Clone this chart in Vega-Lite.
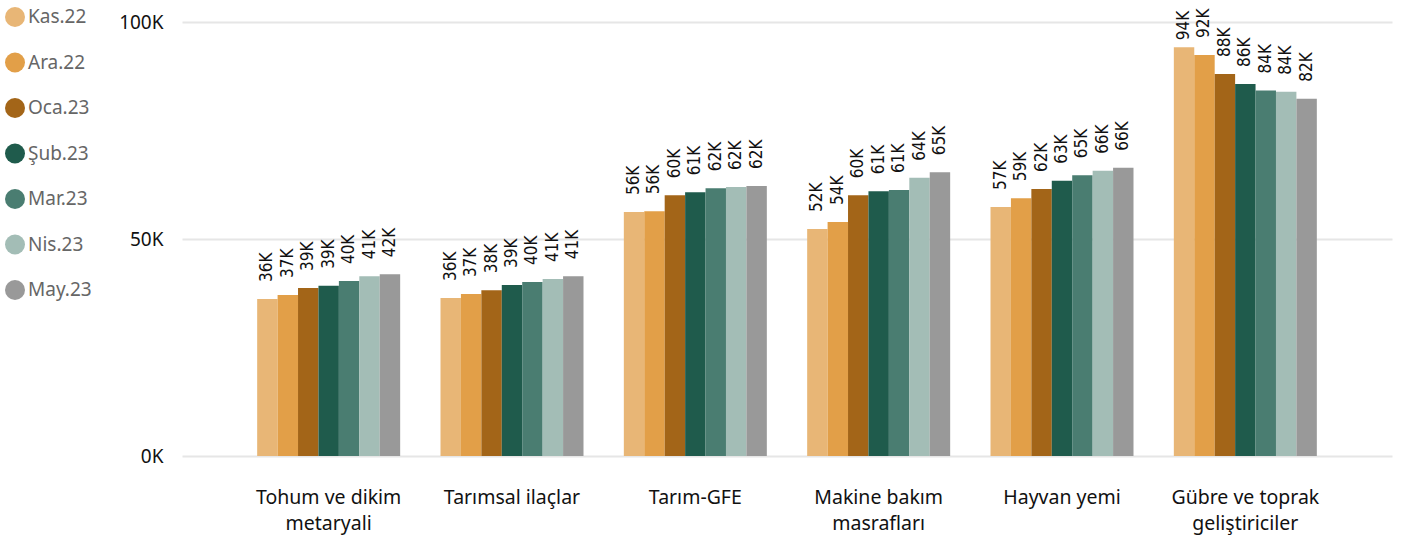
{
  "$schema": "https://vega.github.io/schema/vega-lite/v6.json",
  "width": 1210,
  "height": 434,
  "autosize": {"type": "none"},
  "padding": {"left": 182, "top": 22, "right": 14, "bottom": 81},
  "background": "white",
  "config": {
    "font": "Noto Sans",
    "view": {"stroke": null}
  },
  "data": {
    "values": [
      {"cat": "Tohum ve dikim metaryali", "month": "Kas.22", "value": 36200},
      {"cat": "Tohum ve dikim metaryali", "month": "Ara.22", "value": 37100},
      {"cat": "Tohum ve dikim metaryali", "month": "Oca.23", "value": 38700},
      {"cat": "Tohum ve dikim metaryali", "month": "Şub.23", "value": 39200},
      {"cat": "Tohum ve dikim metaryali", "month": "Mar.23", "value": 40300},
      {"cat": "Tohum ve dikim metaryali", "month": "Nis.23", "value": 41400},
      {"cat": "Tohum ve dikim metaryali", "month": "May.23", "value": 41900},
      {"cat": "Tarımsal ilaçlar", "month": "Kas.22", "value": 36400},
      {"cat": "Tarımsal ilaçlar", "month": "Ara.22", "value": 37300},
      {"cat": "Tarımsal ilaçlar", "month": "Oca.23", "value": 38200},
      {"cat": "Tarımsal ilaçlar", "month": "Şub.23", "value": 39400},
      {"cat": "Tarımsal ilaçlar", "month": "Mar.23", "value": 40100},
      {"cat": "Tarımsal ilaçlar", "month": "Nis.23", "value": 40800},
      {"cat": "Tarımsal ilaçlar", "month": "May.23", "value": 41400},
      {"cat": "Tarım-GFE", "month": "Kas.22", "value": 56200},
      {"cat": "Tarım-GFE", "month": "Ara.22", "value": 56400},
      {"cat": "Tarım-GFE", "month": "Oca.23", "value": 60100},
      {"cat": "Tarım-GFE", "month": "Şub.23", "value": 60800},
      {"cat": "Tarım-GFE", "month": "Mar.23", "value": 61700},
      {"cat": "Tarım-GFE", "month": "Nis.23", "value": 62000},
      {"cat": "Tarım-GFE", "month": "May.23", "value": 62200},
      {"cat": "Makine bakım masrafları", "month": "Kas.22", "value": 52300},
      {"cat": "Makine bakım masrafları", "month": "Ara.22", "value": 53900},
      {"cat": "Makine bakım masrafları", "month": "Oca.23", "value": 60100},
      {"cat": "Makine bakım masrafları", "month": "Şub.23", "value": 61000},
      {"cat": "Makine bakım masrafları", "month": "Mar.23", "value": 61300},
      {"cat": "Makine bakım masrafları", "month": "Nis.23", "value": 64100},
      {"cat": "Makine bakım masrafları", "month": "May.23", "value": 65400},
      {"cat": "Hayvan yemi", "month": "Kas.22", "value": 57400},
      {"cat": "Hayvan yemi", "month": "Ara.22", "value": 59400},
      {"cat": "Hayvan yemi", "month": "Oca.23", "value": 61500},
      {"cat": "Hayvan yemi", "month": "Şub.23", "value": 63400},
      {"cat": "Hayvan yemi", "month": "Mar.23", "value": 64700},
      {"cat": "Hayvan yemi", "month": "Nis.23", "value": 65700},
      {"cat": "Hayvan yemi", "month": "May.23", "value": 66400},
      {"cat": "Gübre ve toprak geliştiriciler", "month": "Kas.22", "value": 94200},
      {"cat": "Gübre ve toprak geliştiriciler", "month": "Ara.22", "value": 92400},
      {"cat": "Gübre ve toprak geliştiriciler", "month": "Oca.23", "value": 88000},
      {"cat": "Gübre ve toprak geliştiriciler", "month": "Şub.23", "value": 85700},
      {"cat": "Gübre ve toprak geliştiriciler", "month": "Mar.23", "value": 84200},
      {"cat": "Gübre ve toprak geliştiriciler", "month": "Nis.23", "value": 83900},
      {"cat": "Gübre ve toprak geliştiriciler", "month": "May.23", "value": 82300}
    ]
  },
  "transform": [
    {"calculate": "round(datum.value/1000) + 'K'", "as": "label"}
  ],
  "encoding": {
    "x": {
      "field": "cat", "type": "nominal", "sort": null,
      "scale": {"paddingInner": 0.22, "paddingOuter": 0.41},
      "axis": {
        "title": null, "labelAngle": 0, "domain": false, "ticks": false,
        "labelFontSize": 19.5, "labelColor": "#111111", "labelPadding": 41,
        "labelLineHeight": 26, "labelBaseline": "middle",
        "labelExpr": "datum.value == 'Tohum ve dikim metaryali' ? ['Tohum ve dikim','metaryali'] : datum.value == 'Makine bakım masrafları' ? ['Makine bakım','masrafları'] : datum.value == 'Gübre ve toprak geliştiriciler' ? ['Gübre ve toprak','geliştiriciler'] : datum.value"
      }
    },
    "xOffset": {
      "field": "month", "type": "nominal",
      "sort": ["Kas.22", "Ara.22", "Oca.23", "Şub.23", "Mar.23", "Nis.23", "May.23"],
      "scale": {"paddingInner": 0, "paddingOuter": 0}
    },
    "y": {
      "field": "value", "type": "quantitative",
      "scale": {"domain": [0, 100000], "nice": false},
      "axis": {
        "title": null, "values": [0, 50000, 100000], "domain": false, "ticks": false,
        "labelFontSize": 19, "labelColor": "#111111", "labelPadding": 19,
        "gridColor": "#e6e6e6", "gridWidth": 2,
        "labelExpr": "datum.value/1000 + 'K'"
      }
    }
  },
  "layer": [
    {
      "mark": {"type": "bar"},
      "encoding": {
        "color": {
          "field": "month", "type": "nominal",
          "sort": ["Kas.22", "Ara.22", "Oca.23", "Şub.23", "Mar.23", "Nis.23", "May.23"],
          "scale": {
            "domain": ["Kas.22", "Ara.22", "Oca.23", "Şub.23", "Mar.23", "Nis.23", "May.23"],
            "range": ["#E8B676", "#E29F48", "#A36518", "#1F5B4C", "#4A7D71", "#A3BDB6", "#999999"]
          },
          "legend": {
            "title": null, "orient": "none", "legendX": -177, "legendY": -15,
            "symbolType": "circle", "symbolSize": 400, "symbolStrokeWidth": 0,
            "labelFontSize": 19, "labelColor": "#666666", "rowPadding": 25.5,
            "labelOffset": 3, "padding": 0
          }
        }
      }
    },
    {
      "transform": [{"filter": "datum.value < 93000"}],
      "mark": {"type": "text", "angle": 270, "align": "left", "baseline": "middle", "dx": 17, "fontSize": 17, "font": "DejaVu Sans Condensed", "color": "#111111"},
      "encoding": {
        "text": {"field": "label"}
      }
    },
    {
      "transform": [{"filter": "datum.value >= 93000"}],
      "mark": {"type": "text", "angle": 270, "align": "left", "baseline": "middle", "dx": 7, "fontSize": 17, "font": "DejaVu Sans Condensed", "color": "#111111"},
      "encoding": {
        "text": {"field": "label"}
      }
    }
  ]
}
